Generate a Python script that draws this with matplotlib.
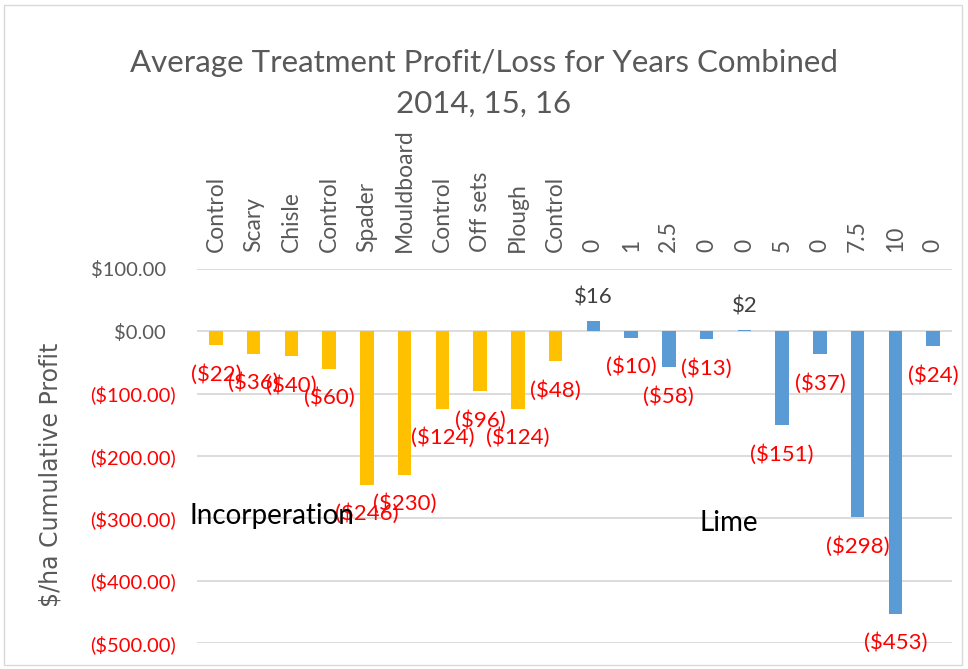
import matplotlib
matplotlib.use('Agg')

import matplotlib.pyplot as plt
import numpy as np
from matplotlib.patches import Rectangle

# treatments along the top
labels = ["Control", "Scary", "Chisle", "Control", "Spader", "Mouldboard",
          "Control", "Off sets", "Plough", "Control",
          "0", "1", "2.5", "0", "0", "5", "0", "7.5", "10", "0"]
incorp = [-22, -36, -40, -60, -246, -230, -124, -96, -124, -48]
lime = [16, -10, -58, -13, 2, -151, -37, -298, -453, -24]
yticks = [100, 0, -100, -200, -300, -400, -500]

plt.rcParams['font.family'] = ['Lato', 'DejaVu Sans']

fig = plt.figure(figsize=(9.68, 6.69), dpi=100)
ax = fig.add_axes([197/968, 1 - 643/669, 755/968, (643 - 269)/669])

values = incorp + lime
x = np.arange(len(values))
colors = ["#FFC000"] * len(incorp) + ["#5B9BD5"] * len(lime)
ax.bar(x, values, width=0.36, color=colors, zorder=3)

ax.set_xlim(-0.5, len(values) - 0.5)
ax.set_ylim(-500, 100)
ax.set_yticks(yticks)
ax.grid(axis='y', color="#D9D9D9", linewidth=1.3, zorder=0)
for s in ax.spines.values():
    s.set_visible(False)

def money(v, dec=True):
    txt = f"${abs(v):.2f}" if dec else f"${abs(v):.0f}"
    return f"({txt})" if v < 0 else txt

# excel style: positives padded so digits line up with the bracketed ones
ax.set_yticklabels([money(v) + ("" if v < 0 else "  ") for v in yticks], fontsize=14.5)
for lab, v in zip(ax.get_yticklabels(), yticks):
    lab.set_color("red" if v < 0 else "#595959")
ax.tick_params(axis='y', length=0, pad=15)

ax.xaxis.tick_top()
ax.set_xticks(x)
ax.set_xticklabels(labels, rotation=90, fontsize=16.5, color="#595959")
ax.tick_params(axis='x', length=0, pad=12)

for xi, v in zip(x, values):
    if v < 0:
        ax.annotate(money(v, False), (xi, v), xytext=(0, -21), textcoords='offset points',
                    ha='center', va='center', color="red", fontsize=16, zorder=4)
    else:
        ax.annotate(money(v, False), (xi, v), xytext=(0, 17), textcoords='offset points',
                    ha='center', va='center', color="#404040", fontsize=16, zorder=4)

ax.set_ylabel("$/ha Cumulative Profit", fontsize=17, color="#595959",
              family=['DejaVu Sans'])
ax.yaxis.set_label_coords(-0.178, 0.449)

fig.text(190/968, 1 - 516/669, "Incorperation", fontsize=20, color="black",
         ha='left', va='center')
fig.text(700/968, 1 - 523/669, "Lime", fontsize=20, color="black",
         ha='left', va='center')

fig.suptitle("Average Treatment Profit/Loss for Years Combined\n2014, 15, 16",
             y=1 - 49/669, va='top', fontsize=22.5, color="#595959", linespacing=1.55)

fig.patches.append(Rectangle((4/968, 4/669), 958/968, 660/669, transform=fig.transFigure,
                             fill=False, edgecolor="#D9D9D9", linewidth=1))

fig.savefig("out.png", dpi=100)
